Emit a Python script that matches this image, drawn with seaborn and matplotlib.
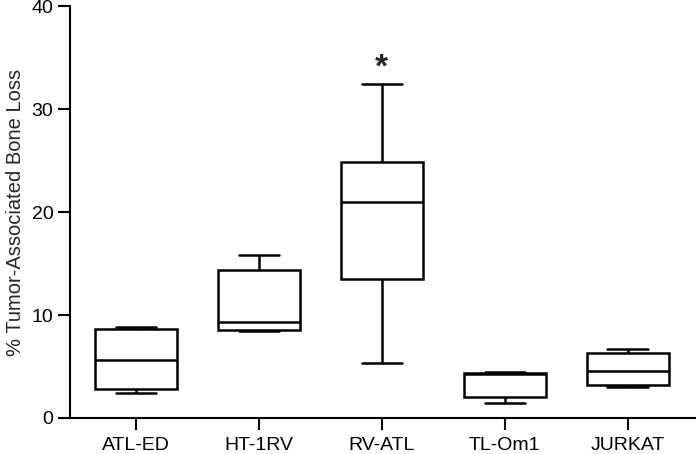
# load libraries
import numpy as np
import pandas as pd
import matplotlib
matplotlib.use("Agg")
import matplotlib.pyplot as plt
import seaborn as sns

# box stats: min, q1, median, q3, max
cell_lines = ['ATL-ED', 'HT-1RV', 'RV-ATL', 'TL-Om1', 'JURKAT']
atl_ed = [2.45, 2.8, 5.6, 8.6, 8.8]
ht_1rv = [8.4, 8.55, 9.35, 14.4, 15.8]
rv_atl = [5.35, 13.45, 21.0, 24.9, 32.4]
tl_om1 = [1.43, 2.07, 4.3, 4.4, 4.5]
jurkat = [3.04, 3.2, 4.6, 6.34, 6.67]

# with 5 values per group, numpy's quartiles land exactly on q1 / q3
df = pd.DataFrame({
    'line': np.repeat(cell_lines, 5),
    'loss': atl_ed + ht_1rv + rv_atl + tl_om1 + jurkat,
})

sns.set_style('ticks')
plt.rcParams['font.family'] = ['Liberation Sans', 'DejaVu Sans']

fig = plt.figure(figsize=(6.96, 4.54), dpi=100)
ax = fig.add_axes([70 / 696, 36 / 454, 626 / 696, 412 / 454])

lw = 1.8
sns.boxplot(x='line', y='loss', data=df, order=cell_lines, whis=(0, 100),
            width=0.67, color='white', linecolor='black', linewidth=lw,
            fliersize=0, ax=ax,
            medianprops={'color': 'black', 'linewidth': lw},
            capprops={'linewidth': lw}, whiskerprops={'linewidth': lw},
            capwidths=0.33)

# significance marker above RV-ATL
ax.text(2, 34.0, '*', ha='center', va='center', fontsize=24, fontweight='bold')

ax.set_ylim(0, 40)
ax.set_xlim(-0.537, 4.555)
ax.set_yticks([0, 10, 20, 30, 40])
ax.set_xlabel('')
ax.set_ylabel('% Tumor-Associated Bone Loss', fontsize=14.5, labelpad=5)
ax.tick_params(labelsize=14, length=8.5, width=1.5, colors='black')
ax.tick_params(axis='x', pad=5)
for s in ['left', 'bottom']:
    ax.spines[s].set_linewidth(1.5)
    ax.spines[s].set_color('black')
sns.despine(ax=ax)

fig.savefig('out.png', dpi=100)
